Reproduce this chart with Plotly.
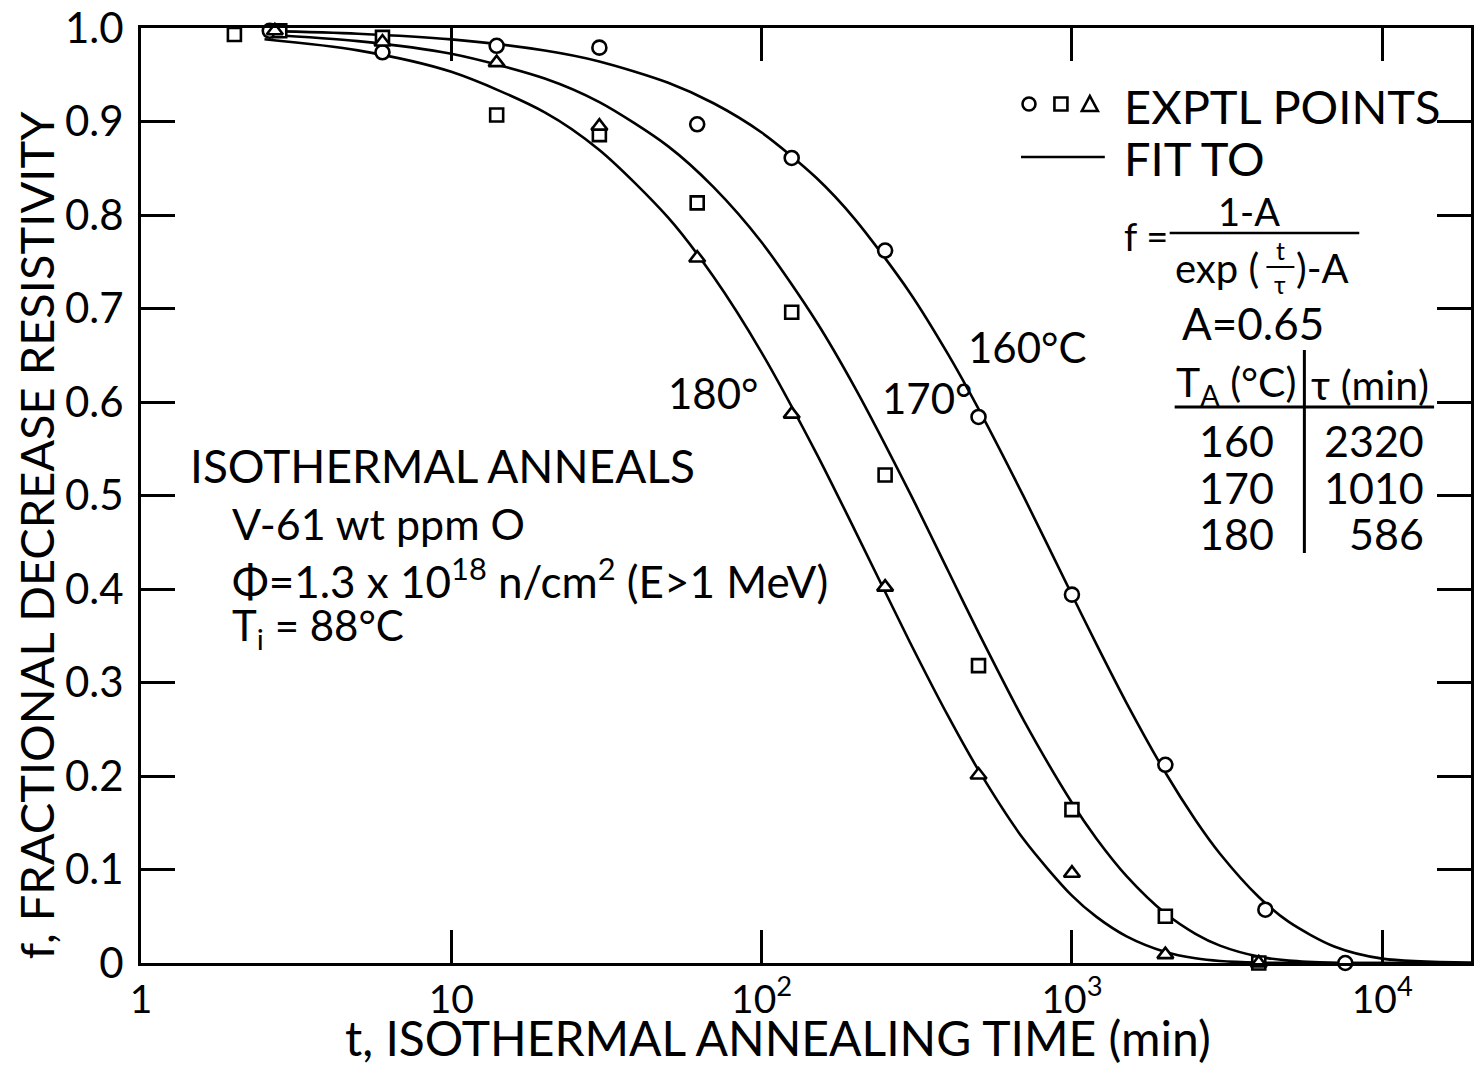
import plotly.graph_objects as go

# ---------------- data ----------------
fit_t = [2.5, 5, 10, 20, 30, 50, 70, 100, 150, 200, 300, 400, 500, 700, 1000,
         1200, 1500, 2000, 2500, 3000, 4000, 5000, 7000, 10000, 20000]
fit_160 = [0.9969, 0.9939, 0.9878, 0.9759, 0.9642, 0.9414, 0.9195, 0.8882, 0.8398,
           0.7954, 0.7172, 0.6504, 0.5927, 0.4985, 0.3938, 0.3407, 0.2780, 0.2037,
           0.1530, 0.1169, 0.0706, 0.0439, 0.0177, 0.0047, 0.0001]
fit_170 = [0.9930, 0.9860, 0.9724, 0.9460, 0.9207, 0.8734, 0.8298, 0.7708, 0.6861,
           0.6151, 0.5030, 0.4187, 0.3533, 0.2593, 0.1714, 0.1330, 0.0930, 0.0531,
           0.0312, 0.0186, 0.0068, 0.0025, 0.0003, 0.0000, 0.0000]
fit_180 = [0.9879, 0.9761, 0.9531, 0.9098, 0.8695, 0.7971, 0.7339, 0.6529, 0.5454,
           0.4625, 0.3436, 0.2634, 0.2062, 0.1320, 0.0720, 0.0493, 0.0285, 0.0118,
           0.0050, 0.0021, 0.0004, 0.0001, 0.0000, 0.0000, 0.0000]

circ_t = [2.6, 6, 14, 30, 62, 125, 250, 500, 1000, 2000, 4200, 7600]
circ_f = [0.997, 0.974, 0.981, 0.979, 0.897, 0.861, 0.762, 0.584, 0.394, 0.212, 0.057, 0.0]
sq_t = [2, 2.8, 6, 14, 30, 62, 125, 250, 500, 1000, 2000, 4000]
sq_f = [0.993, 0.997, 0.990, 0.907, 0.886, 0.813, 0.696, 0.522, 0.318, 0.164, 0.050, 0.0]
tri_t = [2.7, 6, 14, 30, 62, 125, 250, 500, 1000, 2000, 4000]
tri_f = [0.997, 0.985, 0.963, 0.895, 0.754, 0.587, 0.402, 0.201, 0.096, 0.009, 0.0]

x_tickvals = [1, 10, 100, 1000, 10000]
x_ticktext = ["1", "10", "10<sup>2</sup>", "10<sup>3</sup>", "10<sup>4</sup>"]
y_tickvals = [0, 0.1, 0.2, 0.3, 0.4, 0.5, 0.6, 0.7, 0.8, 0.9, 1.0]
y_ticktext = ["0", "0.1", "0.2", "0.3", "0.4", "0.5", "0.6", "0.7", "0.8", "0.9", "1.0"]

table_TA = ["160", "170", "180"]
table_tau = ["2320", "1010", "586"]

# ---------------- layout helpers ----------------
W, H = 1476, 1069
PL, PR, PT, PB = 141, 1474, 28, 963
FONT = "Lato"


def px(x):
    return (x - PL) / (PR - PL)


def py(y):
    return (PB - y) / (PB - PT)


fig = go.Figure()

line_style = dict(color="black", width=2.6, shape="spline", smoothing=0.8)
for ys in (fit_160, fit_170, fit_180):
    fig.add_trace(go.Scatter(x=fit_t, y=ys, mode="lines", line=line_style,
                             showlegend=False, hoverinfo="skip", cliponaxis=True))

mk_line = dict(color="black", width=2.6)
fig.add_trace(go.Scatter(x=circ_t, y=circ_f, mode="markers", cliponaxis=False, showlegend=False,
                         marker=dict(symbol="circle", size=14, color="white", line=mk_line)))
fig.add_trace(go.Scatter(x=sq_t, y=sq_f, mode="markers", cliponaxis=False, showlegend=False,
                         marker=dict(symbol="square", size=13, color="white", line=mk_line)))
fig.add_trace(go.Scatter(x=tri_t, y=tri_f, mode="markers", cliponaxis=False, showlegend=False,
                         marker=dict(symbol="triangle-up", size=14, color="white", line=mk_line)))

annotations = []


def txt(text, x, y, size, xanchor="left", yanchor="middle", **kw):
    annotations.append(dict(text=text, x=px(x), y=py(y), xref="paper", yref="paper",
                            xanchor=xanchor, yanchor=yanchor, showarrow=False,
                            font=dict(family=FONT, size=size, color="black"), **kw))


# axis titles
txt("t, ISOTHERMAL ANNEALING TIME (min)", 779, 1068, 48, xanchor="center", yanchor="bottom")
txt("f, FRACTIONAL DECREASE RESISTIVITY", 36, 535, 47, xanchor="center", textangle=-90)

# legend text
txt("EXPTL POINTS", 1124, 106, 47)
txt("FIT TO", 1124, 158, 47)
txt("f =", 1124, 236, 38)
txt("1-A", 1251, 211, 38, xanchor="center")
txt("exp (", 1175, 268, 40)
txt("t", 1283, 250, 25, xanchor="center")
txt("τ", 1283, 284, 25, xanchor="center")
txt(")-A", 1297, 268, 40)
txt("A=0.65", 1182, 323, 44)
txt("T<sub>A</sub> (°C)", 1176, 384, 41)
txt("τ (min)", 1312, 384, 41)
for i, (ta, tau) in enumerate(zip(table_TA, table_tau)):
    yy = 441 + i * 46
    txt(ta, 1279, yy, 43, xanchor="right")
    txt(tau, 1429, yy, 43, xanchor="right")

# curve labels
txt("160°C", 968, 347, 42)
txt("170°", 882, 398, 42)
txt("180°", 667, 393, 42)

# description
txt("ISOTHERMAL ANNEALS", 188, 465, 46)
txt("V-61 wt ppm O", 230, 523, 43)
txt("Φ=1.3 x 10<sup>18</sup> n/cm<sup>2</sup> (E>1 MeV)", 230, 578, 44)
txt("T<sub>i</sub> = 88°C", 230, 628, 42)

shapes = []


def pline(x0, y0, x1, y1, w=3):
    shapes.append(dict(type="line", xref="paper", yref="paper", x0=px(x0), y0=py(y0),
                       x1=px(x1), y1=py(y1), line=dict(color="black", width=w)))


# legend glyphs
r = 6.5
shapes.append(dict(type="circle", xref="paper", yref="paper",
                   x0=px(1031 - r), x1=px(1031 + r), y0=py(104 + r), y1=py(104 - r),
                   line=dict(color="black", width=2.6)))
shapes.append(dict(type="rect", xref="paper", yref="paper",
                   x0=px(1063 - r), x1=px(1063 + r), y0=py(104 + r), y1=py(104 - r),
                   line=dict(color="black", width=2.6)))
tx0, tx1, txm = px(1084), px(1100), px(1092)
ty0, ty1 = py(111), py(96)
shapes.append(dict(type="path", xref="paper", yref="paper",
                   path=f"M {tx0} {ty0} L {tx1} {ty0} L {txm} {ty1} Z",
                   line=dict(color="black", width=2.6)))
pline(1023, 157, 1107, 157, 2.6)
# fraction bars
pline(1172, 233, 1362, 233, 2.6)
pline(1269, 267, 1297, 267, 2)
# table lines
pline(1177, 407, 1437, 407, 3)
pline(1307, 350, 1307, 553, 3)

fig.update_layout(
    width=W, height=H,
    margin=dict(l=PL, r=W - PR, t=PT, b=H - PB),
    paper_bgcolor="white", plot_bgcolor="white",
    font=dict(family=FONT, color="black"),
    annotations=annotations, shapes=shapes,
    xaxis=dict(type="log", range=[0, 4.286], showgrid=False, zeroline=False,
               showline=True, linecolor="black", linewidth=3, mirror="ticks",
               ticks="inside", ticklen=33, tickwidth=2.5, tickcolor="black",
               tickvals=x_tickvals, ticktext=x_ticktext,
               tickfont=dict(family=FONT, size=39, color="black"), ticklabelstandoff=0),
    yaxis=dict(range=[0, 1], showgrid=False, zeroline=False,
               showline=True, linecolor="black", linewidth=3, mirror="ticks",
               ticks="inside", ticklen=34, tickwidth=2.5, tickcolor="black",
               tickvals=y_tickvals, ticktext=y_ticktext,
               tickfont=dict(family=FONT, size=42, color="black"), ticklabelstandoff=6),
)

fig.write_html("out.html")
